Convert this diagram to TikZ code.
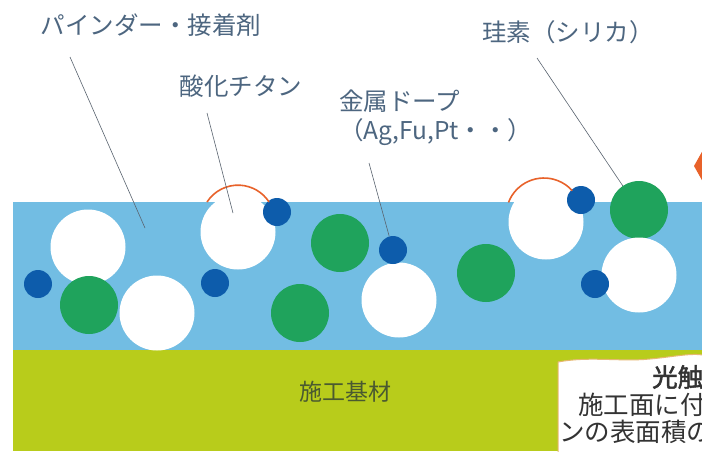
\documentclass[tikz,border=0pt]{standalone}
\usepackage{fontspec}
\newfontfamily\jp{Noto Sans CJK JP}
\newfontfamily\jpbold[FakeBold=2]{Noto Sans CJK JP}
\definecolor{layerblue}{HTML}{72BDE3}
\definecolor{partgreen}{HTML}{1FA35C}
\definecolor{dopeblue}{HTML}{0D5CAB}
\definecolor{substrate}{HTML}{B8CC1B}
\definecolor{arcorange}{HTML}{E8622A}
\definecolor{labc}{HTML}{4D6680}
\definecolor{leadc}{HTML}{5A6470}
\definecolor{basec}{HTML}{4A5A30}
\definecolor{boxedge}{HTML}{E6B870}
\begin{document}
\begin{tikzpicture}[x=1pt,y=-1pt,
  lab/.style={font=\jp\fontsize{24.5}{29}\selectfont, text=labc, inner sep=0pt},
  boxtext/.style={font=\jp\fontsize{25.5}{27}\selectfont, text=black!80, inner sep=0pt, anchor=west},
  whitep/.style={circle, fill=white, minimum size=75pt, inner sep=0pt},
  greenp/.style={circle, fill=partgreen, minimum size=58pt, inner sep=0pt},
  bluep/.style={circle, fill=dopeblue, minimum size=28pt, inner sep=0pt},
  leader/.style={draw=leadc, line width=0.6pt},
  tiarc/.style={draw=arcorange, line width=1.6pt}]
\useasboundingbox (0,0) rectangle (702,451);
\clip (0,0) rectangle (702,451);
\fill[white] (0,0) rectangle (702,451);
% layers
\fill[layerblue] (13,202) rectangle (702,351);
\fill[substrate] (13,350) rectangle (702,451);
% particles
\node[whitep] (w1) at (88,247) {};
\node[greenp] (g1) at (89,305) {};
\node[bluep] (b1) at (38,284) {};
\node[whitep] (w2) at (157,313) {};
\node[whitep] (w3) at (238,232) {};
\node[bluep] (b2) at (277,212) {};
\node[bluep] (b3) at (215,283) {};
\node[greenp] (g2) at (300,313) {};
\node[greenp] (g3) at (340,243) {};
\node[whitep] (w4) at (399,300) {};
\node[bluep] (b4) at (393,250) {};
\node[greenp] (g4) at (486,273) {};
\node[whitep] (w5) at (546,222) {};
\node[bluep] (b5) at (581,200) {};
\node[greenp] (g5) at (639,210) {};
\node[whitep] (w6) at (639,275) {};
\node[bluep] (b6) at (595,284) {};
% photocatalyst arcs
\draw[tiarc] (207,202) arc[start angle=213, end angle=327, radius=37];
\draw[tiarc] (508.5,202.4) arc[start angle=201, end angle=318, radius=38];
% orange mark at right edge
\fill[arcorange] (703,150) -- (694,166) -- (703,182) -- cycle;
% note box
\fill[white] (558,452) -- (558,362) .. controls (590,356) and (620,362) .. (650,359)
  .. controls (672,357) and (690,353) .. (703,355) -- (703,452) -- cycle;
\draw[boxedge, line width=1pt] (558,452) -- (558,362) .. controls (590,356) and (620,362) .. (650,359)
  .. controls (672,357) and (690,353) .. (703,355);
\node[boxtext, font=\jpbold\fontsize{25.5}{27}\selectfont] (t1) at (652,377) {光触};
\node[boxtext] (t2) at (578,405) {施工面に付};
\node[boxtext] (t3) at (559,432) {ンの表面積の};
% substrate label
\node[font=\jp\fontsize{23}{27}\selectfont, text=basec, inner sep=0pt] (base) at (345,392) {施工基材};
% labels
\node[lab] (lbind) at (151,25) {パインダー・接着剤};
\node[lab] (lti) at (241,86) {酸化チタン};
\node[lab, anchor=west, align=left] (lmet) at (339,117.5) {金属ドープ\\（Ag,Fu,Pt・・）};
\node[lab] (lsi) at (568,32) {珪素（シリカ）};
% leader lines
\coordinate (bindS) at (70,57);
\coordinate (bindE) at (145,228);
\coordinate (tiS) at (207,113);
\coordinate (tiE) at (233,213);
\coordinate (metS) at (369,163);
\coordinate (siS) at (537,58);
\draw[leader] (bindS) -- (bindE);
\draw[leader] (tiS) -- (tiE);
\draw[leader] (metS) -- (b4);
\draw[leader] (siS) -- (g5);
\end{tikzpicture}
\end{document}
